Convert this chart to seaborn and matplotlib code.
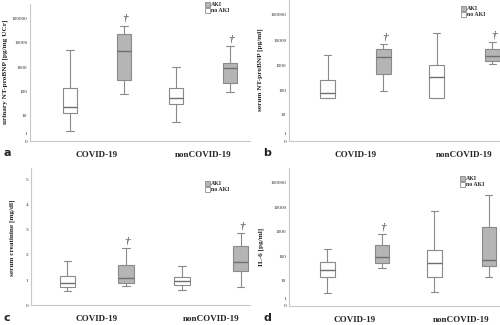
import numpy as np
import pandas as pd
import matplotlib
matplotlib.use("Agg")
import matplotlib.pyplot as plt
from matplotlib.patches import Patch
from matplotlib.ticker import NullLocator, FixedLocator, FixedFormatter
import seaborn as sns

# Groups and AKI status
groups = ["COVID-19", "nonCOVID-19"]
aki_levels = ["no AKI", "AKI"]

# Five-number summaries per group: lower whisker, Q1, median, Q3, upper whisker
urine_ntprobnp_noaki = [[1.6, 12.4, 23, 148, 5100], [4.9, 31, 54, 148, 1070]]
urine_ntprobnp_aki = [[84, 315, 4800, 23000, 50000], [98, 238, 915, 1465, 7200]]

serum_ntprobnp_noaki = [[50, 50, 77, 255, 2480], [50, 50, 345, 1000, 19500]]
serum_ntprobnp_aki = [[93, 441, 2130, 4550, 6700], [1095, 1437, 2330, 4280, 8300]]

creatinine_noaki = [[0.58, 0.74, 0.90, 1.14, 1.76], [0.61, 0.81, 0.97, 1.12, 1.57]]
creatinine_aki = [[0.77, 0.87, 1.085, 1.59, 2.26], [0.71, 1.34, 1.72, 2.34, 2.86]]

il6_noaki = [[2.4, 13.2, 27, 62, 207], [2.8, 14.1, 52, 182, 7270]]
il6_aki = [[32, 52, 100, 301, 818], [13.2, 41, 75, 1625, 32500]]

log_ticks = [0, 1, 10, 100, 1000, 10000, 100000]
lin_ticks = [0, 1, 2, 3, 4, 5]

# Significance markers (AKI box per group)
urine_sig = [True, True]
serum_sig = [True, True]
creat_sig = [True, True]
il6_sig = [True, False]


def long_frame(noaki, aki):
    rows = []
    for gi, g in enumerate(groups):
        for v in noaki[gi]:
            rows.append((g, "no AKI", v))
        for v in aki[gi]:
            rows.append((g, "AKI", v))
    return pd.DataFrame(rows, columns=["group", "aki", "value"])


def fwd(y):
    y = np.asarray(y, dtype=float)
    return np.log10(1.0 + np.clip(y, 0, None))


def inv(y):
    return 10.0 ** np.asarray(y, dtype=float) - 1.0


sns.set_theme(style="white")
serif = ["Liberation Serif", "DejaVu Serif"]
plt.rcParams["font.family"] = ["DejaVu Sans"]

W, H = 500, 325
fig = plt.figure(figsize=(5, 3.25), dpi=100)

panels = [
    dict(rect=[0.060, 0.566, 0.440, 0.422], noaki=urine_ntprobnp_noaki, aki=urine_ntprobnp_aki,
         sig=urine_sig, log=True, ytop=5.58, xlim=(-0.632, 1.443),
         ylabel="urinary NT-proBNP [pg/mg UCr]", ylab=(5, 72),
         letter="a", letter_xy=(4, 153), legend_xy=(205, 2)),
    dict(rect=[0.578, 0.565, 0.422, 0.435], noaki=serum_ntprobnp_noaki, aki=serum_ntprobnp_aki,
         sig=serum_sig, log=True, ytop=5.58, xlim=(-0.61, 1.326),
         ylabel="serum NT-proBNP [pg/ml]", ylab=(260, 70),
         letter="b", letter_xy=(263, 153), legend_xy=(461, 6)),
    dict(rect=[0.062, 0.061, 0.438, 0.422], noaki=creatinine_noaki, aki=creatinine_aki,
         sig=creat_sig, log=False, ytop=5.45, xlim=(-0.573, 1.337),
         ylabel="serum creatinine [mg/dl]", ylab=(12, 238),
         letter="c", letter_xy=(4, 318), legend_xy=(205, 181)),
    dict(rect=[0.578, 0.059, 0.422, 0.424], noaki=il6_noaki, aki=il6_aki,
         sig=il6_sig, log=True, ytop=5.6, xlim=(-0.615, 1.36),
         ylabel="IL-6 [pg/ml]", ylab=(261, 247),
         letter="d", letter_xy=(263, 318), legend_xy=(460, 176)),
]

aki_grey = "#b5b5b5"
line_grey = "#8a8a8a"
box_width = 1.02

for p in panels:
    ax = fig.add_axes(p["rect"])
    df = long_frame(p["noaki"], p["aki"])
    sns.boxplot(data=df, x="group", y="value", hue="aki", order=groups,
                hue_order=aki_levels, palette={"no AKI": "white", "AKI": aki_grey},
                whis=(0, 100), width=box_width, gap=0.735, linecolor=line_grey,
                linewidth=0.8, fliersize=0, legend=False, ax=ax,
                medianprops=dict(color="#6f6f6f", linewidth=1.0))

    if p["log"]:
        ax.set_yscale("function", functions=(fwd, inv))
        ax.set_ylim(0, float(inv(p["ytop"])))
        ticks = log_ticks
    else:
        ax.set_ylim(0, p["ytop"])
        ticks = lin_ticks
    ax.yaxis.set_major_locator(FixedLocator(ticks))
    ax.yaxis.set_major_formatter(FixedFormatter([str(t) for t in ticks]))
    ax.yaxis.set_minor_locator(NullLocator())
    ax.set_xlim(*p["xlim"])

    for s in ["top", "right"]:
        ax.spines[s].set_visible(False)
    for s in ["left", "bottom"]:
        ax.spines[s].set_color("#c8c8c8")
        ax.spines[s].set_linewidth(0.8)

    ax.tick_params(axis="y", length=0, pad=2, labelsize=3.8, labelcolor="#333333")
    ax.tick_params(axis="x", length=0, pad=7)
    for lab in ax.get_yticklabels():
        lab.set_family(serif)
    for lab in ax.get_xticklabels():
        lab.set_family(serif)
        lab.set_fontweight("bold")
        lab.set_fontsize(6.5)
    ax.set_xlabel("")
    ax.set_ylabel("")
    fig.text(p["ylab"][0] / W, 1 - p["ylab"][1] / H, p["ylabel"], rotation=90,
             ha="center", va="center", rotation_mode="anchor",
             family=serif, fontweight="bold", fontsize=5.2, color="#222222")

    # significance daggers above the AKI boxes
    for gi, flag in enumerate(p["sig"]):
        if flag:
            top = p["aki"][gi][-1]
            ax.annotate("†", xy=(gi + box_width / 4, top), xytext=(1, 2),
                        textcoords="offset points", ha="center", va="bottom",
                        family=serif, style="italic", fontsize=8, color="#333333")

    handles = [Patch(facecolor=aki_grey, edgecolor=line_grey, linewidth=0.6),
               Patch(facecolor="white", edgecolor=line_grey, linewidth=0.6)]
    lx, ly = p["legend_xy"]
    fig.legend(handles, ["AKI", "no AKI"], loc="upper left",
               bbox_to_anchor=(lx / W, 1 - ly / H), frameon=False,
               borderpad=0, borderaxespad=0, handlelength=0.9, handleheight=0.9,
               handletextpad=0.2, labelspacing=0.05,
               prop=dict(family=serif, weight="bold", size=4.2))

    fig.text(p["letter_xy"][0] / W, 1 - p["letter_xy"][1] / H, p["letter"],
             ha="left", va="center", fontsize=8, fontweight="bold", color="#222222")

fig.savefig("out.png", dpi=100)
